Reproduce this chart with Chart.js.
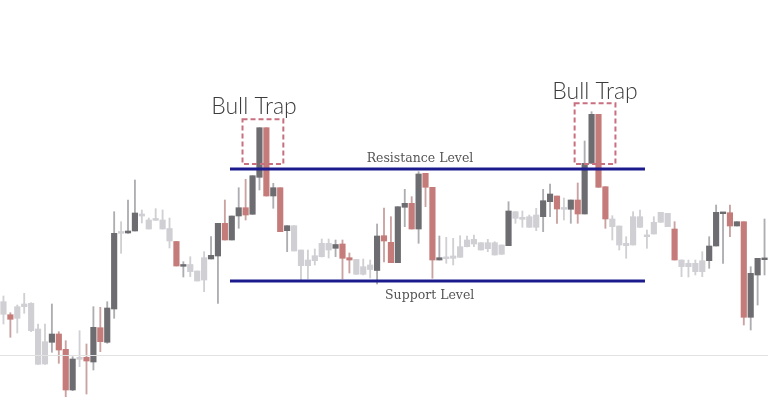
<!DOCTYPE html>
<html>
<head>
<meta charset="utf-8">
<script src="https://cdn.jsdelivr.net/npm/chart.js@4.4.1/dist/chart.umd.min.js"></script>
<style>
  html, body { margin: 0; padding: 0; background: #ffffff; }
  #wrap { width: 768px; height: 414px; position: relative; }
</style>
</head>
<body>
<div id="wrap"><canvas id="trapChart"></canvas></div>
<script>
// ── DADOS DAS VELAS (preço em unidades arbitrárias) ──
const opens = [
  85.7, 85.3, 81.7, 93.3, 96.7, 71, 36, 57.7, 66, 50.7,
  10, 40.7, 42.7, 38, 72.3, 57.7, 91, 166.7, 167, 169,
  186, 180, 179.7, 180, 171.5, 158.5, 133.7, 135.5, 129, 120,
  141, 144, 176.7, 160, 184, 192.3, 185.7, 222.7, 272.3, 204,
  212.3, 169.3, 174.3, 150, 134.3, 139.3, 143.3, 156.7, 151.7, 156,
  142.3, 140.5, 125.7, 135, 129.5, 164.3, 157.7, 137.3, 192.7, 196.7,
  171, 226.7, 212.7, 140, 141.3, 141.7, 142.7, 153.3, 160.7, 157.3,
  151.3, 157.3, 145.7, 154.3, 188.3, 182.7, 183.3, 172.7, 183.3, 198.3,
  204, 190.7, 190.7, 200, 186, 236.7, 285.7, 213.3, 181, 174,
  154.3, 155, 183.3, 164.3, 166, 177.7, 186.7, 171, 140, 133.3,
  136.7, 128.3, 139.3, 154, 186.3, 187.3, 174, 178.3, 82.7, 125,
  140.3
];
const highs = [
  104, 87.3, 95, 106.7, 97.3, 76, 76, 96, 68.3, 59.3,
  43.3, 69.3, 56, 93.3, 92.7, 98.3, 188.3, 178.3, 200, 220,
  190, 182, 191.3, 190, 182, 158.5, 138.3, 143.3, 129, 148.3,
  163.3, 176.7, 200, 184, 212.3, 220.7, 224.3, 272.3, 272.3, 216.7,
  212.3, 174.3, 174.3, 150, 150, 151, 161, 161, 160, 160,
  147, 140.5, 141, 140, 176, 192, 183.3, 193.3, 210.7, 203.3,
  228.3, 226.7, 212.7, 164, 162.7, 161.7, 164.3, 164, 165, 157.3,
  160.7, 158.3, 155, 198.3, 188.3, 189, 185, 191.7, 210.7, 216,
  204, 202, 200, 217, 259, 288.3, 285.7, 213.3, 184.3, 174,
  163.3, 188.3, 190, 170, 183.3, 187.7, 186.7, 178.3, 140, 140,
  140, 148.3, 163.3, 195, 187.7, 195, 178.3, 178.3, 133.3, 141.7,
  181
];
const lows = [
  76, 62.7, 67, 86.7, 68.3, 35.7, 35.7, 47.7, 36.7, 3.3,
  9.3, 33.3, 6, 30, 48.3, 56.7, 81.7, 146.7, 166.7, 169,
  177, 171, 179.7, 171, 152, 134, 123, 123.3, 119, 108.3,
  141, 96.7, 160, 160, 171.7, 180, 185.7, 210, 204, 191.7,
  168.3, 148.3, 149, 120, 121, 135, 143, 142, 143.3, 121,
  127, 125.7, 125, 122, 116, 138, 137.3, 137.3, 173.3, 171,
  156.7, 193.3, 121.7, 140, 136.7, 135, 142.7, 153, 153.3, 150,
  148.3, 145, 145.7, 154.3, 176.7, 172.7, 172.7, 169.3, 168.3, 183.3,
  176.7, 180, 176.7, 176.7, 186, 236.7, 212.7, 171.7, 160, 150,
  141.7, 155, 172.7, 151.7, 166, 177.7, 173.3, 140, 123.3, 123,
  125, 123.3, 131.7, 154, 136.7, 163.3, 174, 75, 70, 95,
  125
];
const closes = [
  98.3, 80.7, 93.3, 96, 69.3, 35.7, 58.3, 66, 50, 10,
  41, 42.7, 39, 72.7, 58.3, 92, 166.7, 168.3, 169, 187,
  184, 171, 181.3, 171, 159, 134, 135.5, 128.3, 119, 142.3,
  144.7, 176.7, 160, 184, 192.3, 185, 224.3, 272.3, 204, 212.3,
  168.3, 174.3, 149, 134.3, 140, 144.3, 156.7, 150, 155.5, 141.7,
  140, 125.7, 133.3, 130.5, 164, 159, 137.3, 193.3, 196.7, 171,
  226, 212.7, 140, 142.3, 142.7, 144, 153.3, 160, 156, 150,
  157.3, 145, 155, 189, 181.7, 180.7, 172.7, 185, 199.3, 206,
  191, 192, 200, 186, 236.7, 285.7, 212.7, 181, 173.3, 155,
  156.7, 183.3, 172.7, 163.3, 177.7, 187.7, 173.3, 140, 133.3, 136.7,
  128.3, 139.3, 154, 187.7, 187.7, 174, 178.3, 82.7, 126.7, 141.7,
  141.3
];
// velas "de ruído" desenhadas em cinza claro
const faded = [
  1, 0, 1, 1, 1, 1, 1, 0, 0, 0,
  0, 1, 0, 0, 0, 0, 0, 1, 0, 0,
  1, 1, 1, 1, 1, 0, 0, 1, 1, 1,
  0, 0, 0, 0, 0, 0, 0, 0, 0, 0,
  0, 0, 1, 1, 1, 1, 1, 1, 0, 0,
  0, 1, 1, 1, 0, 0, 0, 0, 0, 0,
  0, 0, 0, 0, 1, 1, 1, 1, 1, 1,
  1, 1, 1, 0, 1, 1, 1, 1, 0, 0,
  0, 1, 0, 0, 0, 0, 0, 0, 1, 1,
  1, 1, 1, 1, 1, 1, 1, 0, 1, 1,
  1, 1, 0, 0, 0, 0, 0, 0, 0, 0,
  0
];

const resistanceLevel = 231;
const supportLevel = 119;
const priceGridLine = 45;
const trapCandles = [[37, 38], [85, 86]];

const labels = opens.map((_, i) => i + 1);

const COR_ALTA = '#6d6d71';
const COR_BAIXA = '#c47b79';
const COR_NEUTRA = '#cfcfd4';

function corCorpo(i) {
    if (faded[i]) return COR_NEUTRA;
    return closes[i] >= opens[i] ? COR_ALTA : COR_BAIXA;
}

function corPavio(i) {
    if (faded[i]) return '#d0d0d4';
    return closes[i] >= opens[i] ? '#aeaeb2' : '#c9a2a1';
}

// ── ANOTAÇÕES: níveis, caixas tracejadas e textos ──
const anotacoesPlugin = {
    id: 'anotacoes',
    afterDatasetsDraw(chart) {
        const { ctx, scales: { x, y } } = chart;
        ctx.save();

        // linha cinza de referência
        const gy = Math.round(y.getPixelForValue(priceGridLine)) + 0.5;
        ctx.strokeStyle = '#e2e2e2';
        ctx.lineWidth = 1;
        ctx.beginPath();
        ctx.moveTo(chart.chartArea.left, gy);
        ctx.lineTo(chart.chartArea.right, gy);
        ctx.stroke();

        // resistência e suporte
        const x0 = x.getPixelForValue(32.74);
        const x1 = x.getPixelForValue(92.72);
        ctx.strokeStyle = '#1b1b8e';
        ctx.lineWidth = 3;
        [resistanceLevel, supportLevel].forEach(nivel => {
            const py = y.getPixelForValue(nivel);
            ctx.beginPath();
            ctx.moveTo(x0, py);
            ctx.lineTo(x1, py);
            ctx.stroke();
        });

        ctx.fillStyle = '#555555';
        ctx.font = '12.5px "DejaVu Serif"';
        ctx.textAlign = 'center';
        ctx.textBaseline = 'alphabetic';
        ctx.fillText('Resistance Level', x.getPixelForValue(60.2), y.getPixelForValue(resistanceLevel) - 7);
        ctx.fillText('Support Level', x.getPixelForValue(61.6), y.getPixelForValue(supportLevel) + 18);

        // caixas tracejadas dos bull traps
        ctx.strokeStyle = '#c8707f';
        ctx.lineWidth = 2;
        ctx.setLineDash([5, 3]);
        trapCandles.forEach(([a, b]) => {
            const topo = Math.max(highs[a], highs[b]) + 8.5;
            const base = resistanceLevel + 5;
            const left = x.getPixelForValue(a - 2.45);
            const right = x.getPixelForValue(b + 2.45);
            ctx.strokeRect(left, y.getPixelForValue(topo), right - left, y.getPixelForValue(base) - y.getPixelForValue(topo));
        });
        ctx.setLineDash([]);

        // rótulos "Bull Trap" (deslocamentos)
        const desloc = [[-9, -14], [0, -13]];
        ctx.fillStyle = '#3c3c3c';
        ctx.font = '300 23px Lato';
        trapCandles.forEach(([a, b], k) => {
            const topo = Math.max(highs[a], highs[b]);
            ctx.fillText('Bull Trap', x.getPixelForValue((a + b) / 2) + desloc[k][0], y.getPixelForValue(topo) + desloc[k][1]);
        });

        ctx.restore();
    }
};

new Chart(document.getElementById('trapChart'), {
    type: 'bar',
    data: {
        labels: labels,
        datasets: [
            {
                label: 'Pavio',
                data: labels.map((_, i) => [lows[i], highs[i]]),
                backgroundColor: labels.map((_, i) => corPavio(i)),
                barThickness: 1.2,
                minBarLength: 1,
                grouped: false,
                order: 2
            },
            {
                label: 'Corpo',
                data: labels.map((_, i) => [opens[i], closes[i]]),
                backgroundColor: labels.map((_, i) => corCorpo(i)),
                barThickness: 5.5,
                minBarLength: 1.8,
                grouped: false,
                order: 1
            }
        ]
    },
    options: {
        responsive: true,
        maintainAspectRatio: false,
        animation: false,
        layout: { padding: 0 },
        plugins: {
            legend: { display: false },
            tooltip: { enabled: false }
        },
        scales: {
            x: { display: false, offset: true },
            y: { display: false, min: -14, max: 400 }
        }
    },
    plugins: [anotacoesPlugin]
});
</script>
</body>
</html>
